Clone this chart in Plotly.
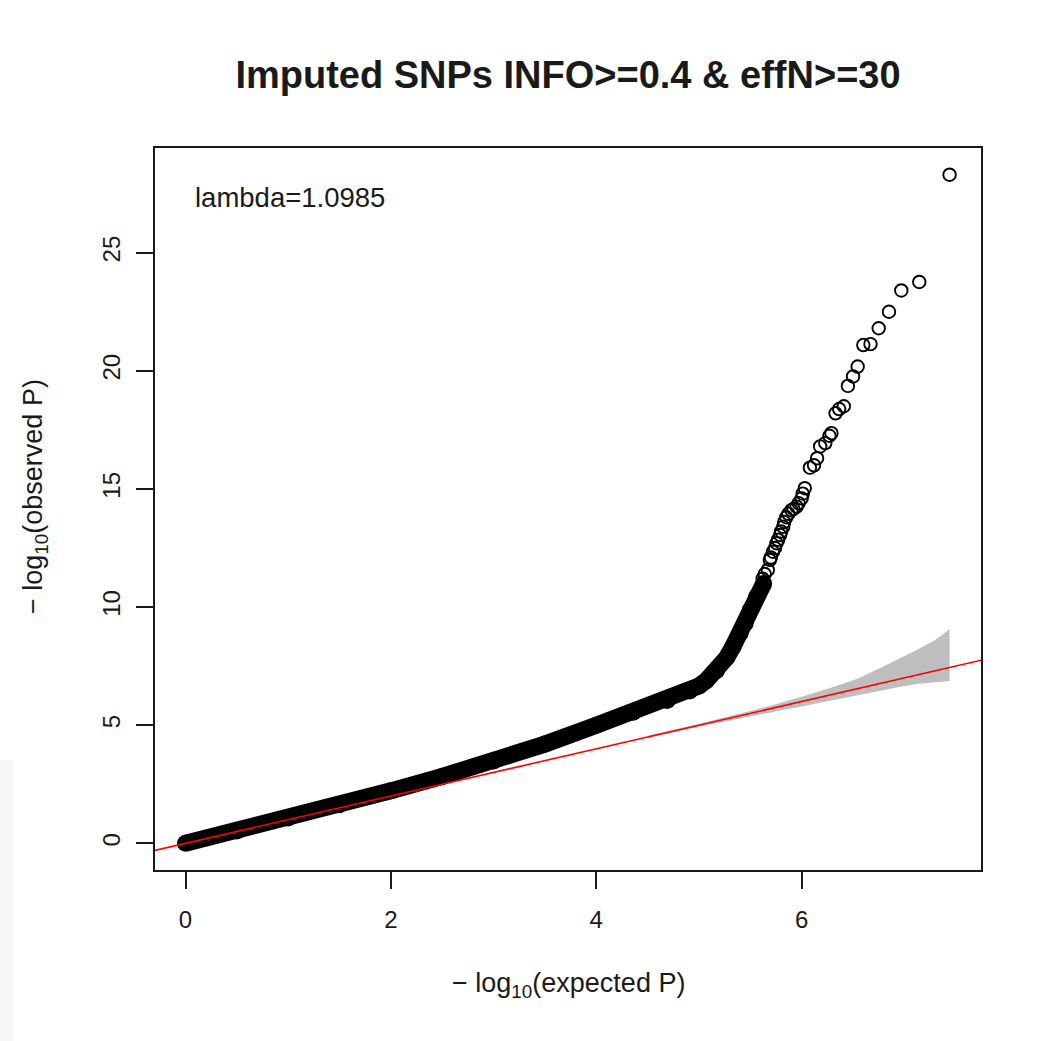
import plotly.graph_objects as go

# QQ plot of imputed SNP association p-values
title_text = "Imputed SNPs INFO>=0.4 & effN>=30"
lambda_text = "lambda=1.0985"

# dense body of the distribution (expected vs observed -log10 P)
dense_x = [0.0, 0.5, 1.0, 1.5, 2.0, 2.5, 3.0, 3.5, 4.0, 4.36, 4.69, 4.91, 5.0, 5.07,
           5.17, 5.27, 5.33, 5.40, 5.45, 5.50, 5.56, 5.63]
dense_y = [0.0, 0.52, 1.07, 1.63, 2.22, 2.83, 3.48, 4.2, 5.0, 5.55, 6.04, 6.45, 6.66, 6.88,
           7.3, 7.86, 8.32, 8.89, 9.31, 9.87, 10.44, 11.0]

# upper tail, individual SNPs
tail_x = [5.62, 5.64, 5.67, 5.69, 5.70, 5.72, 5.74, 5.755, 5.77, 5.79, 5.80, 5.82,
          5.83, 5.85, 5.87, 5.90, 5.92, 5.95, 5.97, 6.0, 6.01, 6.03, 6.08, 6.12,
          6.15, 6.18, 6.23, 6.27, 6.29, 6.33, 6.365, 6.41, 6.45, 6.50, 6.545, 6.60,
          6.67, 6.75, 6.85, 6.97, 7.145, 7.44]
tail_y = [11.2, 11.4, 11.57, 11.99, 12.1, 12.34, 12.5, 12.7, 12.85, 13.05, 13.2, 13.4,
          13.6, 13.8, 13.95, 14.1, 14.15, 14.25, 14.4, 14.6, 14.8, 15.03, 15.9, 16.0,
          16.3, 16.8, 16.94, 17.25, 17.36, 18.2, 18.38, 18.5, 19.36, 19.76, 20.18, 21.09,
          21.13, 21.8, 22.5, 23.4, 23.76, 28.3]

# 95% confidence band under the null
ci_x = [4.5, 5.0, 5.66, 6.0, 6.31, 6.55, 6.79, 6.95, 7.12, 7.30, 7.44]
ci_upper = [4.55, 5.06, 5.78, 6.2, 6.62, 6.98, 7.47, 7.8, 8.18, 8.6, 9.06]
ci_lower = [4.45, 4.93, 5.5, 5.8, 6.06, 6.27, 6.48, 6.62, 6.74, 6.82, 6.87]

# reference line y = x
ref_x = [-1.0, 9.0]
ref_y = [-1.0, 9.0]

x_ticks = [0, 2, 4, 6]
y_ticks = [0, 5, 10, 15, 20, 25]

FONT = "Liberation Sans, Arial, Helvetica, sans-serif"
INK = "#1a1a1a"
MARK_SIZE = 12.5
MARK_LINE = 1.9
BAND_WIDTH = 17

fig = go.Figure()

fig.add_trace(go.Scatter(
    x=ci_x + ci_x[::-1], y=ci_upper + ci_lower[::-1],
    mode="lines", fill="toself", fillcolor="#bebebe",
    line=dict(width=0, color="#bebebe"), hoverinfo="skip", showlegend=False,
))

# overlapping points of the bulk form a solid band
fig.add_trace(go.Scatter(
    x=dense_x, y=dense_y, mode="lines+markers",
    line=dict(color="black", width=BAND_WIDTH),
    marker=dict(symbol="circle", size=BAND_WIDTH, color="black",
                line=dict(width=0)),
    showlegend=False, cliponaxis=True,
))

fig.add_trace(go.Scatter(
    x=tail_x, y=tail_y, mode="markers",
    marker=dict(symbol="circle-open", size=MARK_SIZE, color="black",
                line=dict(width=MARK_LINE, color="black")),
    showlegend=False, cliponaxis=True,
))

fig.add_trace(go.Scatter(
    x=ref_x, y=ref_y, mode="lines",
    line=dict(color="#ff0000", width=1.6), showlegend=False,
))

axis_common = dict(
    showgrid=False, zeroline=False, showline=True, mirror=True,
    linecolor=INK, linewidth=2, ticks="outside", ticklen=17, tickwidth=1.6,
    tickcolor=INK, tickfont=dict(family=FONT, size=24, color=INK),
)

fig.update_layout(
    width=1038, height=1041,
    margin=dict(l=155, r=57, t=148, b=171),
    paper_bgcolor="white", plot_bgcolor="white",
    xaxis=dict(range=[-0.297, 7.746], tickvals=x_ticks, ticklabelstandoff=10,
               **axis_common),
    yaxis=dict(range=[-1.13, 29.43], tickvals=y_ticks, tickangle=-90,
               ticklabelstandoff=6, **axis_common),
    title=dict(text=f"<b>{title_text}</b>", x=568 / 1038, xanchor="center",
               y=1 - 75 / 1041, yanchor="middle", yref="container",
               font=dict(family=FONT, size=38, color=INK)),
    showlegend=False,
)

fig.add_annotation(
    x=0.073, y=27.33, xref="x", yref="y", xanchor="left", yanchor="middle",
    text=lambda_text, showarrow=False,
    font=dict(family=FONT, size=27.5, color=INK),
)

fig.add_annotation(
    x=0.5, y=-(985 - 870) / 722, xref="paper", yref="paper",
    xanchor="center", yanchor="middle", showarrow=False,
    text="\u2212 log<sub>10</sub>(expected P)",
    font=dict(family=FONT, size=27, color=INK),
)

fig.add_annotation(
    x=(35 - 155) / 826, y=0.5 + 12 / 722, xref="paper", yref="paper",
    xanchor="center", yanchor="middle", showarrow=False, textangle=-90,
    text="\u2212 log<sub>10</sub>(observed P)",
    font=dict(family=FONT, size=27, color=INK),
)

# faint strip along the left edge of the canvas
fig.add_shape(type="rect", xref="paper", yref="paper",
              x0=-155 / 826, x1=(13 - 155) / 826, y0=-171 / 722, y1=(870 - 760) / 722,
              fillcolor="#f7f7f7", line=dict(width=0), layer="below")

fig.write_html("out.html")
